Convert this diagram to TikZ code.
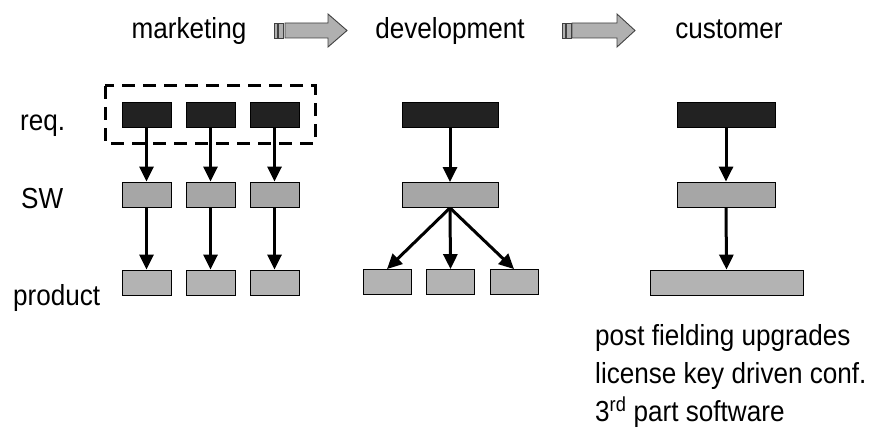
\documentclass[tikz,border=0pt]{standalone}
\usepackage{fontspec}
\setmainfont{Liberation Sans}[FakeStretch=0.9]
\usetikzlibrary{arrows.meta}
\definecolor{reqfill}{HTML}{222222}
\definecolor{swfill}{HTML}{A6A6A6}
\definecolor{prodfill}{HTML}{B3B3B3}
\definecolor{hdrfill}{HTML}{B0B0B0}
\definecolor{hdrline}{HTML}{404040}
\begin{document}
\begin{tikzpicture}[x=1pt,y=-1pt,
  txt/.style={inner sep=0pt,anchor=base west,font=\fontsize{29}{34}\selectfont},
  hdr/.style={inner sep=0pt,anchor=base,font=\fontsize{29}{34}\selectfont},
  box/.style={draw=black,line width=0.8pt,inner sep=0pt,minimum height=25pt},
  reqbox/.style={box,fill=reqfill},
  swbox/.style={box,fill=swfill},
  prodbox/.style={box,fill=prodfill},
  conn/.style={line width=3pt,-{Triangle[width=14pt,length=15pt]}},
  hdrarrow/.style={draw=hdrline,fill=hdrfill,line width=0.9pt}
]
\useasboundingbox (0,0) rectangle (874,433);

% headers
\node[hdr] (hm) at (189,39) {marketing};
\node[hdr] (hd) at (450,39) {development};
\node[hdr] (hc) at (729,39) {customer};

% header arrows
\draw[hdrarrow] (274,23) rectangle (277,38);
\draw[hdrarrow] (278,23) rectangle (283,38);
\draw[hdrarrow] (285,23) -- (328,23) -- (328,14) -- (347,30.5) -- (328,47) -- (328,38) -- (285,38) -- cycle;
\draw[hdrarrow] (562,23) rectangle (565,38);
\draw[hdrarrow] (566,23) rectangle (571,38);
\draw[hdrarrow] (572,23) -- (617,23) -- (617,14) -- (635,30.5) -- (617,47) -- (617,38) -- (572,38) -- cycle;

% row labels
\node[txt] (lreq) at (20,130) {req.};
\node[txt] (lsw) at (21,208) {SW};
\node[txt] (lprod) at (13,305) {product};

% marketing column
\node[reqbox,minimum width=49pt] (r1) at (146.5,114.5) {};
\node[reqbox,minimum width=49pt] (r2) at (210.5,114.5) {};
\node[reqbox,minimum width=49pt] (r3) at (274.5,114.5) {};
\node[swbox,minimum width=49pt] (s1) at (146.5,194.5) {};
\node[swbox,minimum width=49pt] (s2) at (210.5,194.5) {};
\node[swbox,minimum width=49pt] (s3) at (274.5,194.5) {};
\node[prodbox,minimum width=49pt] (p1) at (146.5,282.5) {};
\node[prodbox,minimum width=49pt] (p2) at (210.5,282.5) {};
\node[prodbox,minimum width=49pt] (p3) at (274.5,282.5) {};
\draw[line width=3pt,dash pattern=on 13pt off 8pt] (105,86) rectangle (315,143);
\foreach \i in {1,2,3} {
  \draw[conn] (r\i.south) -- (s\i.north);
  \draw[conn] (s\i.south) -- (p\i.north);
}

% development column
\node[reqbox,minimum width=96pt] (dr) at (450,114.5) {};
\node[swbox,minimum width=96pt] (ds) at (450,195) {};
\node[prodbox,minimum width=48pt] (dp1) at (387,282) {};
\node[prodbox,minimum width=48pt] (dp2) at (450.5,282) {};
\node[prodbox,minimum width=48pt] (dp3) at (514,282) {};
\draw[conn] (dr.south) -- (ds.north);
\draw[conn] (ds.south) -- (dp1.north);
\draw[conn] (ds.south) -- (dp2.north);
\draw[conn] (ds.south) -- (dp3.north);

% customer column
\node[reqbox,minimum width=98pt] (cr) at (726,114.5) {};
\node[swbox,minimum width=98pt] (cs) at (726,194.5) {};
\node[prodbox,minimum width=153pt] (cp) at (726.5,282.5) {};
\draw[conn] (cr.south) -- (cs.north);
\draw[conn] (cs.south) -- (cp.north);

% notes
\node[txt] (n1) at (595,345) {post fielding upgrades};
\node[txt] (n2) at (595,383) {license key driven conf.};
\node[txt] (n3) at (595,421) {3\textsuperscript{rd} part software};
\end{tikzpicture}
\end{document}
